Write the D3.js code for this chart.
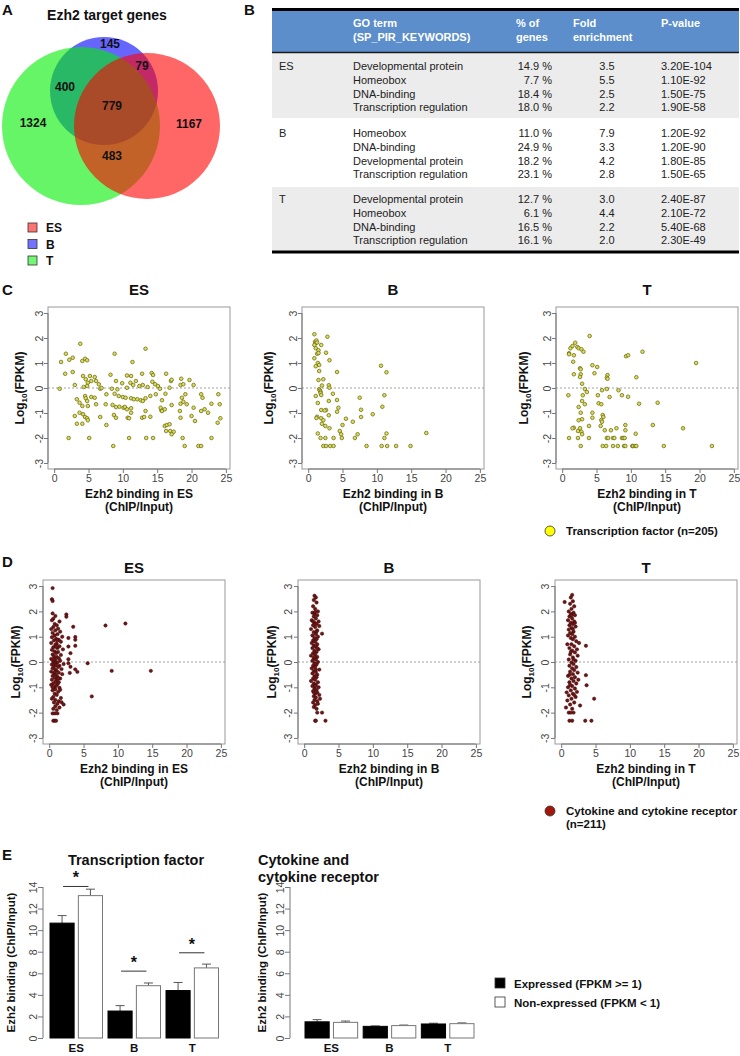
<!DOCTYPE html>
<html><head><meta charset="utf-8">
<script src="https://cdn.jsdelivr.net/npm/d3@7"></script>
<style>body{margin:0;background:#fff}svg{display:block;font-family:"Liberation Sans",Arial,Helvetica,sans-serif}</style>
</head><body><svg id="fig" width="740" height="1056"></svg>
<script>
// ---------------- DATA ----------------
const vennSets = ["ES", "B", "T"];
const vennRegions = ["T only", "B only", "ES only", "B&T", "ES&B", "ES&T", "ES&B&T"];
const vennCounts = [1324, 145, 1167, 400, 79, 483, 779];

const goGroups = ["ES", "B", "T"];
const goTerms = [
  ["Developmental protein", "Homeobox", "DNA-binding", "Transcription regulation"],
  ["Homeobox", "DNA-binding", "Developmental protein", "Transcription regulation"],
  ["Developmental protein", "Homeobox", "DNA-binding", "Transcription regulation"]];
const goPercent = [[14.9, 7.7, 18.4, 18.0], [11.0, 24.9, 18.2, 23.1], [12.7, 6.1, 16.5, 16.1]];
const goFold = [[3.5, 5.5, 2.5, 2.2], [7.9, 3.3, 4.2, 2.8], [3.0, 4.4, 2.2, 2.0]];
const goPvalue = [["3.20E-104", "1.10E-92", "1.50E-75", "1.90E-58"],
  ["1.20E-92", "1.20E-90", "1.80E-85", "1.50E-65"],
  ["2.40E-87", "2.10E-72", "5.40E-68", "2.30E-49"]];

const xTicks = [0, 5, 10, 15, 20, 25];
const yTicks = [-3, -2, -1, 0, 1, 2, 3];

// C: transcription factors  [Ezh2 binding, log10 FPKM]
const tfES = [[1.0,1.04],[0.8,-0.03],[1.7,1.37],[2.2,1.13],[2.7,1.21],[1.6,0.57],[2.7,0.64],[3.8,1.77],[4.1,1.08],[4.5,1.17],[4.8,1.11],[3.0,0.12],[4.2,0.48],[4.3,0.04],[4.6,0.35],[4.9,0.21],[4.8,0.08],[5.2,0.48],[5.4,0.28],[5.9,0.44],[6.1,0.28],[6.5,0.15],[6.7,-0.03],[6.9,0.0],[8.8,1.37],[13.3,1.57],[11.4,1.04],[8.2,0.53],[10.6,0.5],[11.2,0.48],[12.8,0.57],[14.2,0.6],[14.4,0.52],[16.3,0.57],[18.5,0.37],[19.7,0.32],[9.0,0.28],[9.9,0.19],[11.1,0.21],[11.5,0.12],[11.9,0.28],[12.4,0.08],[12.9,0.12],[13.6,0.04],[14.3,0.25],[14.7,0.15],[15.1,0.08],[17.0,0.28],[17.1,0.33],[18.4,0.12],[18.8,0.15],[20.3,0.12],[8.4,-0.03],[9.2,-0.05],[10.6,0.01],[15.4,-0.03],[16.8,0.01],[7.6,-0.25],[8.8,-0.23],[9.4,-0.32],[10.0,-0.36],[10.4,-0.39],[11.2,-0.41],[11.6,-0.45],[12.1,-0.45],[12.6,-0.49],[12.9,-0.52],[13.3,-0.41],[14.0,-0.32],[14.8,-0.25],[15.7,-0.49],[16.2,-0.23],[18.6,-0.39],[19.1,-0.25],[3.3,-0.45],[3.7,-0.59],[4.5,-0.32],[4.6,-0.41],[4.8,-0.52],[5.4,-0.36],[5.9,-0.39],[6.1,-0.65],[4.9,-0.72],[4.1,-0.72],[7.5,-0.65],[8.5,-0.68],[9.0,-0.76],[9.5,-0.75],[10.1,-0.79],[10.3,-0.76],[10.6,-0.85],[11.2,-0.81],[13.3,-0.92],[15.6,-0.89],[17.1,-0.68],[18.4,-0.63],[18.8,-0.55],[19.3,-0.65],[21.4,-0.25],[21.6,-0.39],[22.9,-0.63],[23.9,-0.25],[24.1,-0.65],[3.0,-1.12],[3.7,-0.99],[4.2,-1.05],[4.5,-1.16],[4.8,-1.21],[4.9,-1.29],[3.3,-1.43],[4.1,-1.43],[6.7,-1.16],[8.7,-1.08],[9.0,-1.19],[11.2,-0.99],[10.7,-1.19],[10.9,-1.21],[12.8,-1.19],[13.1,-1.16],[14.0,-1.15],[15.5,-0.79],[15.7,-0.92],[16.1,-0.85],[18.3,-0.92],[18.4,-1.19],[20.3,-0.79],[20.0,-1.12],[20.5,-1.32],[21.4,-0.92],[21.9,-0.85],[22.4,-0.99],[23.8,-1.39],[24.2,-1.21],[7.6,-1.48],[16.1,-1.52],[16.4,-1.48],[16.8,-1.45],[16.3,-1.72],[16.9,-1.72],[17.4,-1.75],[17.1,-1.85],[2.1,-2.0],[5.1,-2.0],[8.6,-2.32],[10.9,-2.0],[13.4,-2.0],[14.4,-2.0],[18.7,-2.0],[19.0,-2.32],[21.0,-2.32],[21.4,-2.32],[22.9,-2.0]];
const tfB = [[0.9,2.15],[2.8,2.05],[1.0,1.85],[1.1,1.8],[1.2,1.9],[1.3,1.82],[0.9,1.72],[1.9,1.72],[1.1,1.59],[1.5,1.51],[1.3,1.37],[1.5,1.4],[2.6,1.41],[0.9,1.19],[3.1,1.11],[1.4,1.0],[1.6,0.92],[1.1,0.87],[1.6,0.68],[4.2,0.64],[1.5,0.32],[2.2,0.35],[10.6,0.89],[11.4,0.63],[3.0,0.11],[3.1,0.01],[1.6,-0.05],[1.7,-0.1],[1.8,-0.15],[1.8,-0.2],[1.9,-0.28],[1.1,-0.32],[3.6,-0.23],[3.0,-0.52],[4.2,-0.48],[7.5,-0.39],[11.1,-0.29],[4.4,-0.79],[2.6,-0.88],[1.9,-0.88],[7.7,-0.87],[10.8,-0.75],[4.2,-0.95],[3.0,-1.09],[1.3,-1.15],[1.9,-1.21],[2.2,-1.29],[9.4,-1.05],[7.7,-1.16],[5.5,-1.23],[2.0,-1.43],[2.5,-1.52],[3.1,-1.61],[5.0,-1.48],[6.5,-1.35],[1.4,-1.82],[4.6,-1.72],[4.8,-1.85],[7.2,-1.85],[11.4,-1.82],[17.2,-1.8],[1.8,-2.0],[2.5,-2.0],[3.7,-2.0],[4.9,-2.0],[6.8,-2.0],[11.1,-2.0],[2.2,-2.32],[2.6,-2.32],[3.2,-2.32],[3.7,-2.32],[8.5,-2.32],[10.7,-2.32],[11.5,-2.32],[12.8,-2.32],[14.9,-2.32],[1.2,-1.2],[2.4,-0.9],[1.4,-0.6],[2.0,0.1]];
const tfT = [[4.0,2.08],[1.2,1.59],[1.5,1.68],[1.9,1.81],[2.2,1.64],[2.4,1.59],[2.8,1.55],[3.1,1.45],[1.0,1.39],[1.0,1.35],[1.7,1.31],[1.6,1.05],[9.3,1.27],[9.6,1.31],[11.7,1.45],[19.5,1.0],[2.6,0.79],[2.7,0.75],[4.4,0.91],[5.1,0.84],[1.7,0.55],[2.7,0.55],[2.6,0.44],[4.7,0.59],[6.6,0.52],[6.5,0.41],[6.6,0.37],[10.8,0.43],[2.9,0.17],[0.9,-0.29],[3.3,-0.04],[3.6,-0.16],[3.0,-0.29],[5.2,-0.29],[5.8,-0.09],[6.5,-0.04],[6.9,-0.36],[8.2,-0.09],[8.7,-0.29],[9.6,-0.35],[2.9,-0.52],[3.3,-0.65],[2.4,-0.76],[2.7,-0.99],[5.3,-0.61],[5.7,-0.65],[11.2,-0.63],[13.9,-0.59],[2.9,-1.25],[2.4,-1.29],[4.4,-0.99],[4.4,-1.19],[5.9,-1.08],[6.0,-1.16],[5.7,-1.28],[5.8,-1.35],[5.6,-1.52],[3.9,-1.52],[1.7,-1.59],[1.5,-1.61],[2.3,-1.72],[2.8,-1.75],[2.6,-1.61],[2.9,-1.85],[6.2,-1.69],[7.1,-1.69],[7.9,-1.61],[9.2,-1.48],[9.2,-1.69],[10.7,-1.83],[13.2,-1.48],[17.6,-1.61],[1.0,-2.0],[2.3,-2.0],[3.9,-2.0],[6.5,-2.0],[6.7,-2.0],[7.4,-2.0],[7.6,-2.0],[8.7,-2.0],[8.9,-2.0],[9.1,-2.0],[2.7,-2.32],[5.9,-2.32],[6.4,-2.32],[7.4,-2.32],[8.1,-2.32],[9.0,-2.32],[9.2,-2.32],[10.2,-2.32],[10.3,-2.32],[10.6,-2.32],[10.8,-2.32],[14.8,-2.32],[21.8,-2.32]];

// D: cytokine and cytokine receptor
const ckES = [[0.5,2.92],[0.4,2.48],[0.5,2.41],[0.5,1.92],[0.6,1.71],[0.4,1.65],[2.5,1.88],[2.5,1.79],[3.5,1.39],[3.8,0.99],[3.8,0.88],[3.8,0.64],[2.8,0.95],[2.8,0.61],[3.1,0.35],[2.8,0.11],[2.8,-0.05],[3.1,-0.19],[3.0,-0.43],[3.8,-0.29],[4.1,-0.39],[5.6,-0.05],[6.2,-1.36],[8.2,1.44],[11.1,1.52],[9.1,-0.35],[14.8,-0.35],[0.8,1.5],[1.1,1.45],[0.6,1.38],[1.3,1.32],[0.9,1.25],[1.6,1.2],[0.5,1.15],[1.2,1.1],[0.8,1.05],[1.9,1.0],[0.4,0.98],[1.0,0.92],[1.4,0.88],[0.7,0.85],[1.7,0.8],[0.3,0.75],[1.1,0.72],[0.9,0.68],[1.5,0.62],[0.6,0.58],[1.2,0.55],[2.0,0.5],[0.4,0.48],[0.8,0.42],[1.3,0.4],[1.0,0.35],[0.5,0.3],[1.7,0.28],[0.7,0.22],[1.1,0.2],[1.4,0.15],[0.3,0.12],[0.9,0.08],[1.6,0.05],[0.6,0.02],[1.2,-0.02],[0.8,-0.05],[2.1,-0.08],[0.4,-0.1],[1.0,-0.12],[1.5,-0.15],[0.7,-0.18],[1.3,-0.2],[0.5,-0.25],[1.8,-0.28],[0.9,-0.3],[1.1,-0.35],[0.3,-0.38],[1.4,-0.42],[0.7,-0.45],[1.9,-0.48],[1.0,-0.5],[0.5,-0.55],[1.2,-0.58],[0.8,-0.62],[1.6,-0.65],[0.4,-0.7],[1.1,-0.72],[0.9,-0.78],[1.4,-0.8],[0.6,-0.85],[1.2,-0.88],[0.3,-0.9],[1.0,-0.95],[0.7,-1.0],[1.5,-1.02],[0.9,-1.08],[0.5,-1.12],[1.3,-1.18],[0.8,-1.25],[1.1,-1.3],[0.6,-1.38],[1.7,-1.42],[0.9,-1.5],[1.4,-1.55],[0.7,-1.6],[1.2,-1.65],[2.1,-1.68],[0.9,-1.75],[1.5,-1.8],[0.6,-1.85],[1.1,-1.9],[0.5,-2.03],[0.8,-2.03],[1.2,-2.03],[0.6,-2.32],[0.8,-2.32],[1.0,-2.32],[1.8,-1.59],[0.3,1.3],[1.5,1.6],[0.9,1.82],[0.7,0.1],[1.3,-0.65],[0.5,-1.0],[1.0,0.6],[0.8,-0.4],[1.6,-1.1],[0.4,-1.45],[1.2,0.85]];
const ckB = [[1.5,2.62],[1.7,2.55],[1.4,2.45],[1.8,2.35],[1.3,2.2],[1.6,2.1],[2.0,2.0],[1.2,1.95],[1.5,1.9],[1.9,1.85],[1.4,1.8],[1.7,1.72],[1.1,1.65],[2.1,1.6],[1.5,1.55],[1.8,1.5],[1.3,1.45],[2.2,1.42],[1.6,1.38],[1.0,1.3],[1.9,1.25],[2.6,1.12],[1.4,1.18],[1.7,1.1],[1.2,1.05],[2.0,1.0],[1.5,0.95],[1.8,0.9],[1.3,0.85],[1.6,0.8],[1.1,0.75],[1.9,0.7],[1.4,0.65],[1.7,0.6],[1.2,0.55],[2.1,0.5],[1.5,0.45],[1.8,0.4],[1.3,0.35],[1.6,0.3],[1.0,0.25],[1.9,0.2],[1.4,0.15],[1.7,0.1],[1.2,0.05],[2.0,0.0],[1.5,-0.05],[1.8,-0.1],[1.3,-0.15],[1.6,-0.2],[1.1,-0.25],[2.2,-0.3],[1.4,-0.35],[1.7,-0.4],[1.2,-0.45],[1.9,-0.5],[1.5,-0.55],[1.8,-0.6],[1.3,-0.65],[1.6,-0.7],[1.0,-0.75],[2.0,-0.8],[1.4,-0.85],[1.7,-0.9],[1.2,-0.95],[2.1,-1.0],[1.5,-1.05],[1.8,-1.1],[1.3,-1.15],[1.9,-1.2],[1.6,-1.25],[2.2,-1.3],[1.4,-1.35],[1.7,-1.4],[2.3,-1.45],[1.5,-1.5],[1.9,-1.55],[1.3,-1.6],[2.0,-1.65],[1.6,-1.7],[1.4,-1.78],[1.8,-1.85],[1.9,-2.0],[2.6,-2.0],[1.6,-2.32],[1.7,-2.32],[3.1,-2.32],[1.6,1.98],[1.8,1.2],[1.5,0.2],[1.7,-0.3],[1.4,-1.2],[1.9,0.55],[1.3,1.6],[1.6,-0.95]];
const ckT = [[1.6,2.65],[1.4,2.55],[0.5,2.37],[1.7,2.4],[1.3,2.3],[1.9,2.2],[1.5,2.1],[1.1,2.0],[1.8,1.95],[1.4,1.9],[2.0,1.85],[1.2,1.8],[1.6,1.72],[1.0,1.65],[1.9,1.6],[1.4,1.55],[1.7,1.5],[1.2,1.45],[2.1,1.4],[1.5,1.35],[1.1,1.28],[1.8,1.2],[1.3,1.15],[1.6,1.1],[1.0,1.05],[2.0,1.0],[1.4,0.95],[1.7,0.9],[2.2,0.82],[2.6,0.75],[3.6,0.64],[1.5,0.7],[1.9,0.62],[1.2,0.55],[2.3,0.5],[1.6,0.45],[2.0,0.38],[1.3,0.3],[2.4,0.25],[1.7,0.18],[1.1,0.1],[2.1,0.05],[1.5,-0.02],[1.8,-0.08],[1.2,-0.15],[2.2,-0.2],[1.6,-0.25],[1.9,-0.32],[1.3,-0.38],[2.4,-0.42],[1.7,-0.48],[3.6,-0.52],[1.0,-0.55],[2.0,-0.6],[1.5,-0.65],[2.5,-0.7],[1.8,-0.75],[1.2,-0.8],[2.2,-0.85],[3.7,-0.92],[1.6,-0.95],[1.0,-1.0],[2.0,-1.05],[1.4,-1.12],[2.3,-1.18],[0.8,-1.2],[1.7,-1.25],[1.1,-1.32],[2.1,-1.38],[4.8,-1.45],[1.5,-1.45],[0.9,-1.52],[1.9,-1.6],[1.3,-1.68],[2.75,-1.72],[0.7,-1.8],[1.6,-1.85],[1.1,-2.0],[1.4,-2.0],[1.8,-2.0],[1.2,-2.32],[1.6,-2.32],[3.5,-2.32],[4.4,-2.32],[1.4,0.4],[1.7,1.3],[1.2,-0.5],[1.9,-1.3],[1.5,1.85],[1.3,-0.9],[1.8,0.1],[0.9,0.7],[2.0,1.55]];

// E: bar means and standard errors  [expressed, non-expressed]
const eGroups = ["ES", "B", "T"];
const eSub = ["Expressed (FPKM >= 1)", "Non-expressed (FPKM < 1)"];
const tfMean = [[10.65, 13.2], [2.5, 4.85], [4.4, 6.5]];
const tfErr = [[0.7, 0.6], [0.5, 0.25], [0.75, 0.35]];
const tfSigLevel = [14.05, 6.2, 7.9];
const ckMean = [[1.5, 1.45], [1.08, 1.15], [1.3, 1.33]];
const ckErr = [[0.2, 0.12], [0.04, 0.05], [0.07, 0.07]];
const eYTicks = [0, 2, 4, 6, 8, 10, 12, 14];

// ---------------- DRAW ----------------
const svg = d3.select("#fig");
const txt = (x, y, s, o = {}) => svg.append("text").attr("x", x).attr("y", y)
  .attr("font-size", o.size || 12).attr("font-weight", o.bold ? "bold" : null)
  .attr("text-anchor", o.anchor || "start").attr("fill", o.fill || "#111").text(s);

// panel letters
[["A", 2, 15], ["B", 244, 15], ["C", 2, 295], ["D", 2, 567], ["E", 2, 860]]
  .forEach(([l, x, y]) => txt(x, y, l, { size: 15, bold: true }));

// ===== A: Venn =====
txt(107, 20, "Ezh2 target genes", { size: 14, bold: true, anchor: "middle" });
const vennColor = { ES: "#ff0000", B: "#0000ff", T: "#00ee00" };
const vennGeom = { B: [104, 91, 54], T: [81, 126, 79], ES: [147, 126, 73] };
["B", "T", "ES"].forEach(s => {
  const [cx, cy, r] = vennGeom[s];
  svg.append("circle").attr("cx", cx).attr("cy", cy).attr("r", r)
    .attr("fill", vennColor[s]).attr("fill-opacity", 0.6);
});
const vennLabelPos = [[33, 123], [110, 44], [189, 124], [65, 87], [142, 66], [112, 156], [112, 106]];
vennCounts.forEach((c, i) => txt(vennLabelPos[i][0], vennLabelPos[i][1] + 4, c, { size: 12, bold: true, anchor: "middle" }));
vennSets.forEach((s, i) => {
  const y = 223 + i * 16.5;
  svg.append("rect").attr("x", 28).attr("y", y).attr("width", 9).attr("height", 9)
    .attr("fill", vennColor[s]).attr("fill-opacity", 0.55).attr("stroke", "#333").attr("stroke-width", 0.8);
  txt(46, y + 9, s, { size: 12, bold: true });
});

// ===== B: table =====
const tL = 272, tR = 739;
svg.append("rect").attr("x", tL).attr("y", 11).attr("width", tR - tL).attr("height", 41).attr("fill", "#5b8ecb");
const bandY = [53, 118, 187], bandH = [65, 69, 64], bandFill = ["#ececec", "#ffffff", "#ececec"];
bandY.forEach((y, i) => svg.append("rect").attr("x", tL).attr("y", y).attr("width", tR - tL).attr("height", bandH[i]).attr("fill", bandFill[i]));
svg.append("line").attr("x1", tL).attr("x2", tR).attr("y1", 9.5).attr("y2", 9.5).attr("stroke", "#000").attr("stroke-width", 3);
svg.append("line").attr("x1", tL).attr("x2", tR).attr("y1", 52.5).attr("y2", 52.5).attr("stroke", "#1a1a1a").attr("stroke-width", 1.5);
svg.append("line").attr("x1", tL).attr("x2", tR).attr("y1", 252).attr("y2", 252).attr("stroke", "#000").attr("stroke-width", 3);
const hdr = { size: 11, bold: true, fill: "#fff" };
txt(353, 27, "GO term", hdr); txt(353, 41, "(SP_PIR_KEYWORDS)", hdr);
txt(516, 27, "% of", hdr); txt(516, 41, "genes", hdr);
txt(573, 27, "Fold", hdr); txt(573, 41, "enrichment", hdr);
txt(661, 27, "P-value", hdr);
const firstRowY = [66, 133, 199];
goGroups.forEach((g, gi) => {
  const cell = { size: 11, fill: "#222" };
  txt(279, firstRowY[gi] + 4, g, cell);
  goTerms[gi].forEach((t, ri) => {
    const y = firstRowY[gi] + ri * 13.8 + 4;
    txt(353, y, t, cell);
    txt(552, y, goPercent[gi][ri].toFixed(1) + " %", { ...cell, anchor: "end" });
    txt(607, y, goFold[gi][ri].toFixed(1), { ...cell, anchor: "middle" });
    txt(661, y, goPvalue[gi][ri], cell);
  });
});

// ===== C & D scatter plots =====
function scatter(o) {
  const g = svg.append("g");
  const x = d3.scaleLinear().domain([-0.9, 25.6]).range([o.left, o.left + 182]);
  const y = d3.scaleLinear().domain([-3.24, 3.24]).range([o.top + o.h, o.top]);
  g.append("line").attr("x1", o.left).attr("x2", o.left + 182).attr("y1", y(0)).attr("y2", y(0))
    .attr("stroke", "#888").attr("stroke-width", 0.8).attr("stroke-dasharray", "2,2");
  g.selectAll("circle.pt").data(o.data).join("circle").attr("class", "pt")
    .attr("cx", d => x(d[0])).attr("cy", d => y(d[1])).attr("r", o.r)
    .attr("fill", o.fill).attr("stroke", o.stroke).attr("stroke-width", o.sw);
  g.append("rect").attr("x", o.left).attr("y", o.top).attr("width", 182).attr("height", o.h)
    .attr("fill", "none").attr("stroke", "#999").attr("stroke-width", 1);
  const xa = g.append("g").attr("transform", `translate(0,${o.top + o.h})`)
    .call(d3.axisBottom(x).tickValues(xTicks).tickSize(4).tickPadding(2));
  xa.select(".domain").remove();
  xa.append("line").attr("x1", x(0)).attr("x2", x(25)).attr("stroke", "#777");
  xa.selectAll(".tick line").attr("stroke", "#777");
  xa.selectAll("text").attr("font-size", 10.5).attr("fill", "#444").attr("font-family", null);
  const ya = g.append("g").attr("transform", `translate(${o.left},0)`)
    .call(d3.axisLeft(y).tickValues(yTicks).tickSize(4).tickFormat(d3.format("d")));
  ya.select(".domain").remove();
  ya.append("line").attr("y1", y(-3)).attr("y2", y(3)).attr("stroke", "#777");
  ya.selectAll(".tick line").attr("stroke", "#777");
  ya.selectAll("text").attr("x", null).attr("dy", "0.35em").attr("text-anchor", "middle")
    .attr("transform", `translate(${o.tickOff},0) rotate(-90)`)
    .attr("font-size", 10.5).attr("fill", "#444").attr("font-family", null)
    .text(d => String(d));
  txt(o.left + 91, o.top - o.titleGap, o.title, { size: 15, bold: true, anchor: "middle" });
  const cx = o.left + 91, by = o.top + o.h;
  txt(cx, by + 29, o.xlabel, { size: 12, bold: true, anchor: "middle" });
  txt(cx, by + 42, "(ChIP/Input)", { size: 12, bold: true, anchor: "middle" });
  const yl = svg.append("text").attr("transform", `translate(${o.ylabX},${(y(0))}) rotate(-90)`)
    .attr("text-anchor", "middle").attr("dy", "0.35em").attr("font-size", 12).attr("font-weight", "bold").attr("fill", "#111");
  yl.append("tspan").text("Log");
  yl.append("tspan").attr("font-size", 8).attr("dy", "3").text("10");
  yl.append("tspan").attr("dy", "-3").text("(FPKM)");
}
const cStyle = { fill: "#dcdc58", stroke: "#707018", r: 1.8, sw: 0.8 };
const dStyle = { fill: "#6e1515", stroke: "#3f0808", r: 1.7, sw: 0.5 };
scatter({ data: tfES, left: 48, top: 307, h: 162, title: "ES", titleGap: 12, xlabel: "Ezh2 binding in ES", ylabX: 20, tickOff: -9, ...cStyle });
scatter({ data: tfB, left: 302, top: 307, h: 162, title: "B", titleGap: 12, xlabel: "Ezh2 binding in B", ylabX: 269, tickOff: -9, ...cStyle });
scatter({ data: tfT, left: 556, top: 307, h: 162, title: "T", titleGap: 12, xlabel: "Ezh2 binding in T", ylabX: 524, tickOff: -9, ...cStyle });
scatter({ data: ckES, left: 43, top: 580, h: 164, title: "ES", titleGap: 7, xlabel: "Ezh2 binding in ES", ylabX: 16, tickOff: -10, ...dStyle });
scatter({ data: ckB, left: 298, top: 580, h: 164, title: "B", titleGap: 7, xlabel: "Ezh2 binding in B", ylabX: 272, tickOff: -10, ...dStyle });
scatter({ data: ckT, left: 555, top: 580, h: 164, title: "T", titleGap: 7, xlabel: "Ezh2 binding in T", ylabX: 527, tickOff: -10, ...dStyle });

// legends C & D
svg.append("circle").attr("cx", 550).attr("cy", 531).attr("r", 5).attr("fill", "#ffff00").attr("stroke", "#333").attr("stroke-width", 0.8);
txt(566, 535, "Transcription factor (n=205)", { size: 11.5, bold: true });
svg.append("circle").attr("cx", 550).attr("cy", 811).attr("r", 5).attr("fill", "#a3160c").attr("stroke", "#333").attr("stroke-width", 0.8);
txt(566, 815, "Cytokine and cytokine receptor", { size: 11.5, bold: true });
txt(566, 828, "(n=211)", { size: 11.5, bold: true });

// ===== E: bar charts =====
const yE = d3.scaleLinear().domain([0, 14]).range([1038, 887]);
function barPanel(o) {
  const g = svg.append("g");
  const xg = d3.scaleBand().domain(eGroups).range(o.range).paddingInner(0.095).paddingOuter(0);
  const xs = d3.scaleBand().domain([0, 1]).range([0, xg.bandwidth()]).paddingInner(0.15);
  const ya = g.append("g").attr("transform", `translate(${o.axisX},0)`)
    .call(d3.axisLeft(yE).tickValues(eYTicks).tickSize(5).tickFormat(d3.format("d")));
  ya.select(".domain").remove();
  ya.append("line").attr("y1", yE(0)).attr("y2", yE(14)).attr("stroke", "#777");
  ya.selectAll(".tick line").attr("stroke", "#777");
  ya.selectAll("text").attr("x", null).attr("dy", "0.35em").attr("text-anchor", "middle")
    .attr("transform", `translate(-10,0) rotate(-90)`).attr("font-size", 10.5).attr("fill", "#444").attr("font-family", null);
  const rows = eGroups.map((grp, gi) => [0, 1].map(si => ({ grp, si, m: o.mean[gi][si], e: o.err[gi][si] }))).flat();
  g.selectAll("line.err").data(rows).join("line").attr("class", "err")
    .attr("x1", d => xg(d.grp) + xs(d.si) + xs.bandwidth() / 2).attr("x2", d => xg(d.grp) + xs(d.si) + xs.bandwidth() / 2)
    .attr("y1", d => yE(d.m)).attr("y2", d => yE(d.m + d.e)).attr("stroke", "#555").attr("stroke-width", 1);
  g.selectAll("line.cap").data(rows).join("line").attr("class", "cap")
    .attr("x1", d => xg(d.grp) + xs(d.si) + xs.bandwidth() / 2 - 4.5).attr("x2", d => xg(d.grp) + xs(d.si) + xs.bandwidth() / 2 + 4.5)
    .attr("y1", d => yE(d.m + d.e)).attr("y2", d => yE(d.m + d.e)).attr("stroke", "#555").attr("stroke-width", 1);
  g.selectAll("rect.bar").data(rows).join("rect").attr("class", "bar")
    .attr("x", d => xg(d.grp) + xs(d.si)).attr("width", xs.bandwidth())
    .attr("y", d => yE(d.m)).attr("height", d => yE(0) - yE(d.m))
    .attr("fill", d => d.si === 0 ? "#000" : "#fff").attr("stroke", d => d.si === 0 ? "#000" : "#777").attr("stroke-width", 1);
  eGroups.forEach(grp => txt(xg(grp) + xg.bandwidth() / 2, 1052, grp, { size: 11.5, bold: true, anchor: "middle" }));
  if (o.sig) {
    o.sig.forEach((lv, gi) => {
      const grp = eGroups[gi];
      const x1 = xg(grp) + xs(0) + xs.bandwidth() / 2 + 1, x2 = xg(grp) + xs(1) + xs.bandwidth() / 2 - 2;
      svg.append("line").attr("x1", x1).attr("x2", x2).attr("y1", yE(lv)).attr("y2", yE(lv)).attr("stroke", "#333").attr("stroke-width", 1);
      txt((x1 + x2) / 2, yE(lv) - 3, "*", { size: 16, bold: true, anchor: "middle" });
    });
  }
  svg.append("text").attr("transform", `translate(${o.ylabX},${yE(7)}) rotate(-90)`).attr("dy", "0.35em")
    .attr("text-anchor", "middle").attr("font-size", 11.5).attr("font-weight", "bold").attr("fill", "#111")
    .text("Ezh2 binding (ChIP/Input)");
}
barPanel({ range: [50, 218.5], axisX: 43, ylabX: 11, mean: tfMean, err: tfErr, sig: tfSigLevel });
barPanel({ range: [305, 474], axisX: 290, ylabX: 262, mean: ckMean, err: ckErr });
txt(136, 865, "Transcription factor", { size: 14.5, bold: true, anchor: "middle" });
txt(258, 865, "Cytokine and", { size: 14.5, bold: true });
txt(258, 882, "cytokine receptor", { size: 14.5, bold: true });
// legend E
eSub.forEach((s, i) => {
  const y = 978 + i * 19;
  svg.append("rect").attr("x", 495).attr("y", y).attr("width", 10).attr("height", 10)
    .attr("fill", i === 0 ? "#000" : "#fff").attr("stroke", "#333").attr("stroke-width", 0.8);
  txt(514, y + 9.5, s, { size: 11.5, bold: true });
});
</script></body></html>
